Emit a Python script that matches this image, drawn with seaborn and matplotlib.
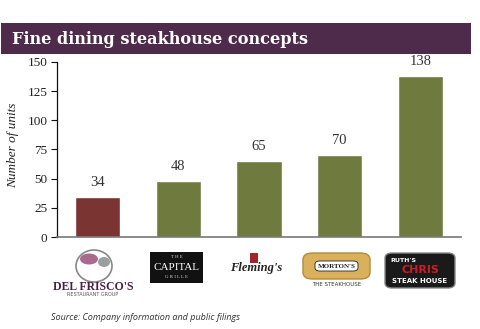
import matplotlib
matplotlib.use("Agg")
import matplotlib.pyplot as plt
from matplotlib.patches import Rectangle, FancyBboxPatch, Ellipse
import seaborn as sns
import pandas as pd

# Restaurant concepts and their unit counts
brands = ["Del Frisco's", "The Capital Grille", "Fleming's", "Morton's", "Ruth's Chris"]
units = [34, 48, 65, 70, 138]
bar_colors = ["#7a3431", "#6f7a3f", "#6f7a3f", "#6f7a3f", "#6f7a3f"]
y_ticks = [0, 25, 50, 75, 100, 125, 150]

title = "Fine dining steakhouse concepts"
y_label = "Number of units"
source = "Source: Company information and public filings"

df = pd.DataFrame({"brand": brands, "units": units})

sns.set_theme(style="white")
plt.rcParams["font.family"] = ["Liberation Serif", "DejaVu Serif"]

fig = plt.figure(figsize=(4.8, 3.29), dpi=100)
fig.patch.set_facecolor("white")
ax = fig.add_axes([0.119, 0.2796, 0.841, 0.532])

sns.barplot(data=df, x="brand", y="units", hue="brand",
            palette=dict(zip(brands, bar_colors)), legend=False,
            width=0.56, saturation=1, ax=ax)

ax.set_xlim(-0.5, len(brands) - 0.5)
ax.set_ylim(0, 150)
ax.set_yticks(y_ticks)
ax.set_yticklabels([str(t) for t in y_ticks], fontsize=9.5, color="#222222")
ax.set_xticks([])
ax.set_xlabel("")
ax.set_ylabel("")
for s in ["top", "right"]:
    ax.spines[s].set_visible(False)
ax.spines["left"].set_color("#111111")
ax.spines["left"].set_linewidth(0.9)
ax.spines["bottom"].set_color("#777777")
ax.spines["bottom"].set_linewidth(1.2)
ax.tick_params(axis="y", direction="out", length=4, width=0.8, color="#111111", pad=3, left=True)

for i, v in enumerate(units):
    ax.annotate(str(v), (i, v), xytext=(0, 6), textcoords="offset points",
                ha="center", va="bottom", fontsize=10.5, color="#333333")

# Title banner
fig.patches.append(Rectangle((0.002, 0.836), 0.979, 0.094, transform=fig.transFigure,
                             facecolor="#4f2b4b", edgecolor="none", zorder=0))
fig.text(0.025, 0.881, title, color="white", fontsize=11.6, fontweight="bold",
         family="DejaVu Serif", va="center", ha="left")

fig.text(0.027, 0.559, y_label, rotation=90, fontsize=9.5, style="italic",
         ha="center", va="center", color="#222222")

fig.text(0.106, 0.036, source, fontsize=6.5, style="italic", family="Open Sans",
         ha="left", va="center", color="#333333")

T = fig.transFigure
def px(x, y):
    return (x / 480, 1 - y / 329)

# Brand marks below the bars
# Del Frisco's
cx, cy = px(94, 266)
fig.patches.append(Ellipse((cx, cy), 36 / 480, 32 / 329, transform=T, facecolor="none",
                           edgecolor="#888888", linewidth=1.2))
fig.patches.append(Ellipse(px(89, 259), 18 / 480, 11 / 329, transform=T,
                           facecolor="#a86a8e", edgecolor="none"))
fig.patches.append(Ellipse(px(104, 262), 12 / 480, 10 / 329, transform=T,
                           facecolor="#9aa0a0", edgecolor="none"))
fig.text(*px(93, 287), "DEL FRISCO'S", fontsize=8.5, fontweight="bold", family="Liberation Serif",
         color="#4a2040", ha="center", va="center")
fig.text(*px(93, 295), "RESTAURANT GROUP", fontsize=3.5, family="DejaVu Sans",
         color="#555555", ha="center", va="center")

# The Capital Grille
x0, y1 = px(150, 283)
fig.patches.append(Rectangle((x0, y1), 53 / 480, 31 / 329, transform=T,
                             facecolor="#111111", edgecolor="none"))
fig.text(*px(176.5, 257), "T H E", fontsize=3.5, color="#dddddd", ha="center", va="center")
fig.text(*px(176.5, 267), "CAPITAL", fontsize=8, color="white", ha="center", va="center")
fig.text(*px(176.5, 277), "G R I L L E", fontsize=3.5, color="#dddddd", ha="center", va="center")

# Fleming's
x0, y1 = px(250, 263)
fig.patches.append(Rectangle((x0, y1), 8 / 480, 10 / 329, transform=T,
                             facecolor="#a3242c", edgecolor="none"))
fig.text(*px(256, 268), "Fleming's", fontsize=9, style="italic", fontweight="bold",
         color="#222222", ha="center", va="center")

# Morton's
x0, y1 = px(303, 279)
fig.patches.append(FancyBboxPatch((x0, y1), 67 / 480, 26 / 329, transform=T,
                                  boxstyle="round,pad=0,rounding_size=0.02",
                                  facecolor="#d9b15c", edgecolor="#b38a3a", linewidth=1))
x0, y1 = px(315, 271)
fig.patches.append(FancyBboxPatch((x0, y1), 43 / 480, 10 / 329, transform=T,
                                  boxstyle="round,pad=0,rounding_size=0.01",
                                  facecolor="white", edgecolor="#222222", linewidth=0.6))
fig.text(*px(336.5, 266), "MORTON'S", fontsize=5, fontweight="bold", color="#222222",
         ha="center", va="center")
fig.text(*px(336.5, 284), "THE STEAKHOUSE", fontsize=4, family="DejaVu Sans",
         color="#333333", ha="center", va="center")

# Ruth's Chris
x0, y1 = px(385, 288)
fig.patches.append(FancyBboxPatch((x0, y1), 70 / 480, 35 / 329, transform=T,
                                  boxstyle="round,pad=0,rounding_size=0.015",
                                  facecolor="#1a1a1a", edgecolor="#888888", linewidth=1))
fig.text(*px(403, 260), "RUTH'S", fontsize=4.5, fontweight="bold", family="DejaVu Sans",
         color="white", ha="center", va="center")
fig.text(*px(420, 270), "CHRIS", fontsize=8, fontweight="bold", family="DejaVu Sans",
         color="#c8202a", ha="center", va="center")
fig.text(*px(420, 281), "STEAK HOUSE", fontsize=5, fontweight="bold", family="DejaVu Sans",
         color="white", ha="center", va="center")

fig.savefig("out.png", dpi=100, facecolor="white")
